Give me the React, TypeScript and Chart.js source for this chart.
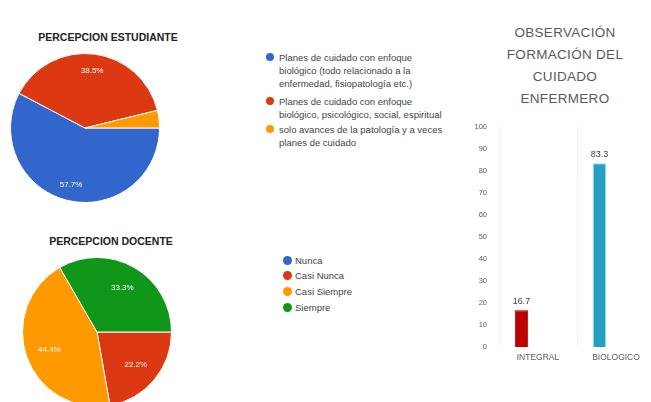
import React, { useEffect, useRef } from "react";
import { Chart, registerables } from "chart.js";

Chart.register(...registerables);

const FONT = "'Liberation Sans', Arial, sans-serif";

// ---- Pie 1: PERCEPCION ESTUDIANTE ----
const studentTitle = "PERCEPCION ESTUDIANTE";
const studentLabels = [
  "Planes de cuidado con enfoque biológico (todo relacionado a la enfermedad, fisiopatología etc.)",
  "Planes de cuidado con enfoque biológico, psicológico, social, espiritual",
  "solo avances de la patología y a veces planes de cuidado",
];
const studentLegendLines = [
  ["Planes de cuidado con enfoque", "biológico (todo relacionado a la", "enfermedad, fisiopatología etc.)"],
  ["Planes de cuidado con enfoque", "biológico, psicológico, social, espiritual"],
  ["solo avances de la patología y a veces", "planes de cuidado"],
];
const studentValues = [57.7, 38.5, 3.8];
const studentColors = ["#3366cc", "#dc3912", "#ff9900"];

// ---- Pie 2: PERCEPCION DOCENTE ----
const teacherTitle = "PERCEPCION DOCENTE";
const teacherLabels = ["Nunca", "Casi Nunca", "Casi Siempre", "Siempre"];
const teacherValues = [0, 22.2, 44.4, 33.3];
const teacherColors = ["#3366cc", "#dc3912", "#ff9900", "#109618"];

// ---- Bar chart ----
const barTitle = ["OBSERVACIÓN", "FORMACIÓN DEL", "CUIDADO", "ENFERMERO"];
const barCategories = ["INTEGRAL", "BIOLOGICO"];
const barValues = [16.7, 83.3];
const barEmptySeries = [null, null];
const barColors = ["#c00000", "#2a9ec2"];
const barBorders = ["#7a0000", "#8fe4f8"];

function pieLabelPlugin(frac: number) {
  return {
    id: "pieLabels",
    afterDatasetsDraw(chart: any) {
      const ctx = chart.ctx;
      const meta = chart.getDatasetMeta(0);
      const data = chart.data.datasets[0].data as number[];
      const total = data.reduce((a, b) => a + b, 0);
      ctx.save();
      ctx.font = `8px ${FONT}`;
      ctx.fillStyle = "#ffffff";
      ctx.textAlign = "center";
      ctx.textBaseline = "middle";
      meta.data.forEach((arc: any, i: number) => {
        const v = data[i];
        if (!v || v / total < 0.05) return;
        const p = arc.getProps(["x", "y", "startAngle", "endAngle", "outerRadius"], true);
        const mid = (p.startAngle + p.endAngle) / 2;
        ctx.fillText(
          v.toFixed(1) + "%",
          p.x + Math.cos(mid) * p.outerRadius * frac,
          p.y + Math.sin(mid) * p.outerRadius * frac
        );
      });
      ctx.restore();
    },
  };
}

function PieChart(props: {
  labels: string[];
  values: number[];
  colors: string[];
  frac: number;
  left: number;
  top: number;
  size: number;
}) {
  const ref = useRef<HTMLCanvasElement>(null);
  useEffect(() => {
    const chart = new Chart(ref.current as HTMLCanvasElement, {
      type: "pie",
      data: {
        labels: props.labels,
        datasets: [
          {
            data: props.values,
            backgroundColor: props.colors,
            borderColor: "#ffffff",
            borderWidth: 1,
          },
        ],
      },
      options: {
        responsive: false,
        animation: false,
        rotation: 90,
        layout: { padding: 0 },
        plugins: {
          legend: { display: false },
          tooltip: { enabled: false },
          title: { display: false },
        },
      } as any,
      plugins: [pieLabelPlugin(props.frac)],
    });
    return () => chart.destroy();
  }, []);
  return (
    <canvas
      ref={ref}
      width={props.size}
      height={props.size}
      style={{ position: "absolute", left: props.left, top: props.top, width: props.size, height: props.size }}
    />
  );
}

const barValuePlugin = {
  id: "barValues",
  afterDatasetsDraw(chart: any) {
    const ctx = chart.ctx;
    const meta = chart.getDatasetMeta(0);
    const data = chart.data.datasets[0].data as number[];
    ctx.save();
    ctx.font = `9px ${FONT}`;
    ctx.fillStyle = "#404040";
    ctx.textAlign = "center";
    ctx.textBaseline = "bottom";
    meta.data.forEach((bar: any, i: number) => {
      const p = bar.getProps(["x", "y"], true);
      ctx.fillText(data[i].toFixed(1), p.x, p.y - 4);
    });
    ctx.restore();
  },
};

function BarChart() {
  const ref = useRef<HTMLCanvasElement>(null);
  useEffect(() => {
    const chart = new Chart(ref.current as HTMLCanvasElement, {
      type: "bar",
      data: {
        labels: barCategories,
        datasets: [
          {
            label: "Serie 1",
            data: barValues,
            backgroundColor: barColors,
            borderColor: barBorders,
            borderWidth: 1,
            categoryPercentage: 0.846,
            barPercentage: 0.41,
          },
          {
            label: "Serie 2",
            data: barEmptySeries as any,
            backgroundColor: "#999999",
            categoryPercentage: 0.846,
            barPercentage: 0.41,
          },
        ],
      },
      options: {
        responsive: false,
        animation: false,
        layout: { padding: { top: 12, left: 0, right: 0, bottom: 0 } },
        plugins: { legend: { display: false }, tooltip: { enabled: false } },
        scales: {
          y: {
            min: 0,
            max: 100,
            ticks: { stepSize: 10, padding: 12, color: "#595959", font: { size: 7.5, family: FONT } },
            grid: { display: false, drawTicks: false },
            border: { display: false },
            afterFit: (s: any) => {
              s.width = 39;
            },
          },
          x: {
            ticks: { padding: 6, color: "#595959", font: { size: 8.5, family: FONT } },
            grid: { display: true, color: "rgba(0,0,0,0.06)", drawTicks: false, offset: true },
            border: { display: false },
            afterFit: (s: any) => {
              s.height = 30;
            },
          },
        },
      } as any,
      plugins: [barValuePlugin],
    });
    return () => chart.destroy();
  }, []);
  return (
    <canvas
      ref={ref}
      width={195}
      height={267}
      style={{ position: "absolute", left: 460, top: 110, width: 195, height: 267 }}
    />
  );
}

function Dot(props: { x: number; y: number; r: number; color: string }) {
  return (
    <div
      style={{
        position: "absolute",
        left: props.x - props.r,
        top: props.y - props.r,
        width: props.r * 2,
        height: props.r * 2,
        borderRadius: "50%",
        background: props.color,
      }}
    />
  );
}

export default function App() {
  const legend1Tops = [57, 101, 129];
  const legend2Ys = [260, 275.7, 291.3, 307];
  return (
    <div
      style={{
        position: "fixed",
        left: 0,
        top: 0,
        width: 651,
        height: 402,
        overflow: "hidden",
        background: "#ffffff",
        fontFamily: FONT,
      }}
    >
      {/* Pie titles */}
      <div
        style={{
          position: "absolute",
          left: 8,
          width: 200,
          top: 31,
          textAlign: "center",
          fontSize: 10.5,
          fontWeight: "bold",
          lineHeight: "12px",
          color: "#222",
          whiteSpace: "nowrap",
        }}
      >
        {studentTitle}
      </div>
      <div
        style={{
          position: "absolute",
          left: 11,
          width: 200,
          top: 235,
          textAlign: "center",
          fontSize: 10.5,
          fontWeight: "bold",
          lineHeight: "12px",
          color: "#222",
          whiteSpace: "nowrap",
        }}
      >
        {teacherTitle}
      </div>

      <PieChart labels={studentLabels} values={studentValues} colors={studentColors} frac={0.78} left={10} top={53} size={150} />
      <PieChart labels={teacherLabels} values={teacherValues} colors={teacherColors} frac={0.68} left={22} top={257} size={150} />

      {/* Legend 1 */}
      {studentLegendLines.map((lines, i) => (
        <React.Fragment key={"l1" + i}>
          <Dot x={270} y={legend1Tops[i]} r={4} color={studentColors[i]} />
          <div
            style={{
              position: "absolute",
              left: 279,
              top: legend1Tops[i] - 6.5,
              fontSize: 9.5,
              lineHeight: "13px",
              color: "#444",
              whiteSpace: "nowrap",
            }}
          >
            {lines.map((t, j) => (
              <div key={j}>{t}</div>
            ))}
          </div>
        </React.Fragment>
      ))}

      {/* Legend 2 */}
      {teacherLabels.map((t, i) => (
        <React.Fragment key={"l2" + i}>
          <Dot x={287} y={legend2Ys[i]} r={4.5} color={teacherColors[i]} />
          <div
            style={{
              position: "absolute",
              left: 295,
              top: legend2Ys[i] - 6.5,
              fontSize: 9.5,
              lineHeight: "13px",
              color: "#444",
              whiteSpace: "nowrap",
            }}
          >
            {t}
          </div>
        </React.Fragment>
      ))}

      {/* Bar title */}
      <div
        style={{
          position: "absolute",
          left: 485,
          width: 160,
          top: 22,
          textAlign: "center",
          fontSize: 13.5,
          lineHeight: "22px",
          color: "#595959",
          letterSpacing: 0.3,
        }}
      >
        {barTitle.map((t, i) => (
          <div key={i}>{t}</div>
        ))}
      </div>

      <BarChart />
    </div>
  );
}
